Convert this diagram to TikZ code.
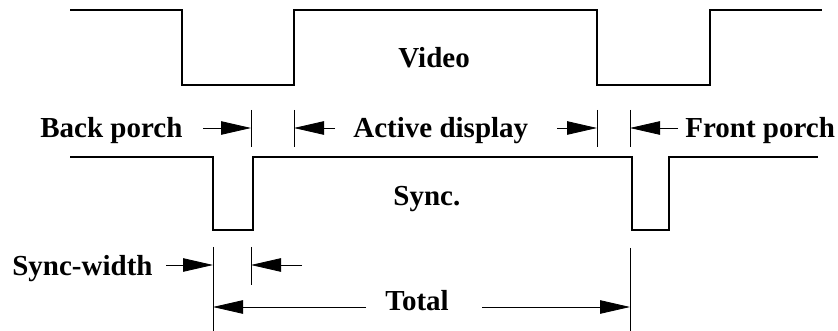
\documentclass[tikz,border=0pt]{standalone}
\usepackage{fontspec}
\setmainfont{Liberation Serif}
\usetikzlibrary{arrows.meta}
\tikzset{every picture/.style={line width=0.75pt}}
\tikzset{
	wave/.style={line width=1.8pt, line join=miter},
	tick/.style={line width=0.6pt},
	dim/.style={line width=0.8pt, -{Triangle[length=30pt,width=13.5pt]}},
	lbl/.style={anchor=base west, inner sep=0pt, font=\fontsize{29}{32}\selectfont\bfseries}
}

\begin{document}
\begin{tikzpicture}[x=1pt,y=1pt,yscale=-1,xscale=1]
	\useasboundingbox (0,0) rectangle (838,331);
	
	%Video signal
	\draw [wave] (70,10) -- (182,10) -- (182,85) -- (294,85) -- (294,10) -- (597,10) -- (597,85) -- (710,85) -- (710,10) -- (822,10) ;
	%Sync signal
	\draw [wave] (70,157) -- (213,157) -- (213,230) -- (253,230) -- (253,157) -- (632,157) -- (632,230) -- (669,230) -- (669,157) -- (818,157) ;
	
	%Ticks, first row
	\draw [tick] (251,110) -- (251,147) ;
	\draw [tick] (294,110) -- (294,147) ;
	\draw [tick] (597,110) -- (597,147) ;
	\draw [tick] (630,110) -- (630,147) ;
	%Ticks, sync-width and total
	\draw [tick] (213,247) -- (213,331) ;
	\draw [tick] (251,247) -- (251,285) ;
	\draw [tick] (630,248) -- (630,331) ;
	
	%Arrow points
	\coordinate (bpA) at (203,128) ;
	\coordinate (bpB) at (251,128) ;
	\coordinate (adA) at (335,128) ;
	\coordinate (adB) at (294,128) ;
	\coordinate (adC) at (557,128) ;
	\coordinate (adD) at (597,128) ;
	\coordinate (fpA) at (678,128) ;
	\coordinate (fpB) at (630,128) ;
	\coordinate (swA) at (166,265) ;
	\coordinate (swB) at (213,265) ;
	\coordinate (swC) at (302,265) ;
	\coordinate (swD) at (251,265) ;
	\coordinate (ttA) at (366,307) ;
	\coordinate (ttB) at (213,307) ;
	\coordinate (ttC) at (482,307) ;
	\coordinate (ttD) at (630,307) ;
	
	%Arrows
	\draw [dim] (bpA) -- (bpB) ;
	\draw [dim] (adA) -- (adB) ;
	\draw [dim] (adC) -- (adD) ;
	\draw [dim] (fpA) -- (fpB) ;
	\draw [dim] (swA) -- (swB) ;
	\draw [dim] (swC) -- (swD) ;
	\draw [dim] (ttA) -- (ttB) ;
	\draw [dim] (ttC) -- (ttD) ;
	
	% Text Node
	\node [lbl] (video) at (398,68) {Video};
	% Text Node
	\node [lbl] (sync) at (393,206) {Sync.};
	% Text Node
	\node [lbl] (backporch) at (40,138) {Back porch};
	% Text Node
	\node [lbl] (active) at (353,138) {Active display};
	% Text Node
	\node [lbl] (frontporch) at (685,138) {Front porch};
	% Text Node
	\node [lbl] (syncwidth) at (12,275) {Sync-width};
	% Text Node
	\node [lbl] (total) at (385,310) {Total};
	
\end{tikzpicture}
\end{document}
